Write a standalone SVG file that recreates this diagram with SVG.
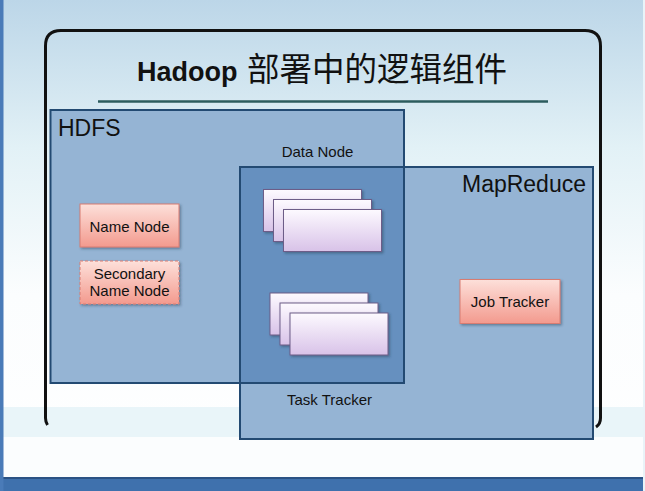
<svg xmlns="http://www.w3.org/2000/svg" width="645" height="491" viewBox="0 0 645 491">
<defs>
<linearGradient id="bg" x1="0" y1="0" x2="0" y2="1">
<stop offset="0" stop-color="#bcd6e8"/>
<stop offset="0.3" stop-color="#e2f1f6"/>
<stop offset="0.6" stop-color="#fbfdfe"/>
<stop offset="1" stop-color="#ffffff"/>
</linearGradient>
<linearGradient id="red" x1="0" y1="0" x2="0" y2="1">
<stop offset="0" stop-color="#fde0da"/>
<stop offset="1" stop-color="#f39a8e"/>
</linearGradient>
<linearGradient id="lilac" x1="0" y1="0" x2="0" y2="1">
<stop offset="0" stop-color="#fdfaff"/>
<stop offset="1" stop-color="#d8c2e8"/>
</linearGradient>
<filter id="sh" x="-10%" y="-10%" width="130%" height="140%">
<feDropShadow dx="1.5" dy="1.5" stdDeviation="1" flood-color="#203850" flood-opacity="0.45"/>
</filter>
</defs>
<style>
.lbl{font-family:"Liberation Sans",Arial,sans-serif;fill:#111;}
.big{font-size:23px;}
.mid{font-size:15px;}
.node{font-size:15px;text-anchor:middle;}
.area{fill:#95b4d4;stroke:#234a72;stroke-width:2;}
.rbox{fill:url(#red);stroke:#d77c72;stroke-width:1;filter:url(#sh);}
.pbox{fill:url(#lilac);stroke:#6d5d88;stroke-width:1;filter:url(#sh);}
</style>

<!-- background -->
<rect x="0" y="0" width="645" height="491" fill="url(#bg)"/>
<rect x="0" y="407" width="645" height="30" fill="#e9f5f9"/>
<rect x="0" y="437" width="645" height="40" fill="#fbfdfe"/>
<rect x="0" y="477" width="645" height="14" fill="#3f71ad"/>
<rect x="0" y="477" width="645" height="2" fill="#2b5284"/>
<rect x="0" y="0" width="3.5" height="491" fill="#4a7bb8"/>
<rect x="643" y="0" width="2" height="491" fill="#e9f3f8"/>

<!-- slide frame -->
<path d="M45.5,418 L45.5,46 Q45.5,30.5 61,30.5 L585,30.5 Q600.5,30.5 600.5,46 L600.5,418 Q600.5,424 596,427 M45.5,418 Q45.5,422 47.5,425" fill="none" stroke="#111" stroke-width="3"/>

<!-- title -->
<g id="title">
<text x="137" y="81" class="lbl" style="font-size:27px;font-weight:bold;">Hadoop</text>
<text x="247" y="81" style="font-family:'Noto Sans CJK SC','Noto Sans',sans-serif;font-size:32.5px;fill:#111;">部署中的逻辑组件</text>
<line x1="98" y1="101.5" x2="548" y2="101.5" stroke="#2c5c5e" stroke-width="2.5"/>
</g>

<!-- areas -->
<g id="hdfs">
<rect x="50.5" y="110" width="353.5" height="273" class="area"/>
<text x="58" y="136" class="lbl big">HDFS</text>
</g>
<g id="mapreduce">
<rect x="240" y="167" width="353" height="272" class="area"/>
<text x="586" y="192" class="lbl big" text-anchor="end">MapReduce</text>
</g>
<g id="overlap">
<rect x="240" y="167" width="164" height="216" fill="#6690bf" stroke="#234a72" stroke-width="2"/>
<text x="317.5" y="157" class="lbl mid" text-anchor="middle">Data Node</text>
<text x="329.5" y="405" class="lbl mid" text-anchor="middle">Task Tracker</text>
</g>

<!-- nodes -->
<g id="name-node">
<rect x="80" y="204" width="99" height="43" class="rbox"/>
<text x="129.5" y="231.5" class="lbl node">Name Node</text>
</g>
<g id="secondary-name-node">
<rect x="80" y="261" width="99" height="43" class="rbox" stroke-dasharray="3,2"/>
<text x="129.5" y="279" class="lbl node">Secondary</text>
<text x="129.5" y="296" class="lbl node">Name Node</text>
</g>
<g id="job-tracker">
<rect x="460" y="279.5" width="100" height="44" class="rbox"/>
<text x="510" y="306.5" class="lbl node">Job Tracker</text>
</g>
<g id="data-nodes">
<rect x="263.5" y="189.5" width="98" height="42" class="pbox"/>
<rect x="273.5" y="199.5" width="98" height="42" class="pbox"/>
<rect x="283.5" y="209.5" width="98" height="42" class="pbox"/>
</g>
<g id="task-trackers">
<rect x="270" y="293" width="98" height="42" class="pbox"/>
<rect x="280" y="303" width="98" height="42" class="pbox"/>
<rect x="290" y="313" width="98" height="42" class="pbox"/>
</g>
<g id="connectors"/>
</svg>
